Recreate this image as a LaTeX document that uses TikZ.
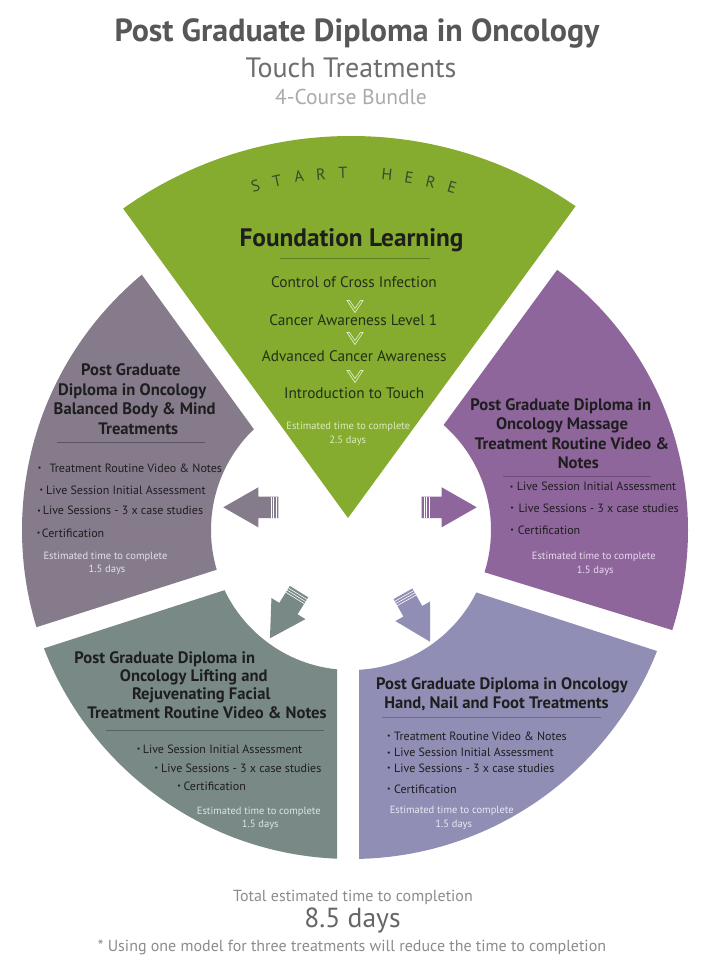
\documentclass[tikz,border=0pt]{standalone}
\usepackage{fontspec}
\usepackage{graphicx}
\setmainfont{PT Sans}
\usetikzlibrary{calc}
\definecolor{cgreen}{HTML}{85AC2E}
\definecolor{cmauve}{HTML}{867B8B}
\definecolor{cpurple}{HTML}{8E669C}
\definecolor{cslate}{HTML}{798A86}
\definecolor{clav}{HTML}{918EB6}
\definecolor{cT1}{HTML}{575757}
\definecolor{cT2}{HTML}{6E6E6E}
\definecolor{cT3}{HTML}{ABABAB}
\definecolor{cfoot}{HTML}{8C8C8C}
\definecolor{cdays}{HTML}{666666}
\definecolor{cdark}{HTML}{1E1E1E}
\definecolor{cgtext}{HTML}{233018}
\definecolor{cstart}{HTML}{3B4A2C}
\definecolor{cgest}{HTML}{DCEBC0}
\definecolor{cgline}{HTML}{5F8020}
\definecolor{cLline}{HTML}{5E5466}
\definecolor{cRline}{HTML}{6E4C7C}
\definecolor{cBLline}{HTML}{56635F}
\definecolor{cBRline}{HTML}{6E6B92}
\definecolor{cLest}{HTML}{E6E0EA}
\definecolor{cRest}{HTML}{E8DAEE}
\definecolor{cBLest}{HTML}{DCE4E1}
\definecolor{cBRest}{HTML}{E8E8F4}
\definecolor{cchev}{HTML}{DDEBC4}
\newcommand\bl[2]{\llap{\raisebox{0.12em}{\scalebox{0.65}{•}}\hspace{#1pt}}#2}
\begin{document}
\begin{tikzpicture}[x=1pt,y=-1pt,
  txt/.style={inner sep=0pt, text depth=0pt},
  stitle/.style={txt, font=\bfseries\fontsize{16.6}{17}\selectfont, text height=11.3pt, text=cdark},
  bul/.style={txt, anchor=west, font=\fontsize{12}{12}\selectfont, text height=8.2pt, text=cdark},
  est/.style={txt, font=\fontsize{10.5}{11}\selectfont, text height=7.1pt},
  gitem/.style={txt, font=\fontsize{15.3}{16}\selectfont, text height=10.4pt, text=cgtext},
  rule/.style={line width=0.8pt},
  chev/.style={draw=cchev, line width=0.7pt},
  pics/bigarrow/.style={code={
    \fill[#1] (0,-10.8) -- (20,-10.8) -- (20,-20) -- (55,0) -- (20,20) -- (20,10.8) -- (0,10.8) -- cycle;
    \draw[white, line width=0.6pt] (2.5,-10.8) -- (2.5,10.8) (5,-10.8) -- (5,10.8) (7.5,-10.8) -- (7.5,10.8);
  }}]
\useasboundingbox[fill=white] (0,0) rectangle (715,975);
\coordinate (C) at (351,530);
\coordinate (CL) at (354,530);
\coordinate (CR) at (364,530);

% ---------- green sector ----------
\coordinate (g0) at (348,518);
\coordinate (g1) at (122,207);
\coordinate (g2) at (575,207);
\begin{scope}
  \clip (g0) -- ($(g0)!2!(g1)$) -- ($(g0)!2!(g2)$) -- cycle;
  \fill[cgreen] (C) circle[radius=394pt];
\end{scope}

% ---------- left sector ----------
\coordinate (a1) at (142,275); \coordinate (a2) at (253,428);
\coordinate (b1) at (37,627);  \coordinate (b2) at (200,575);
\coordinate (iL) at (intersection of a1--a2 and b1--b2);
\begin{scope}
  \clip (iL) -- ($(iL)!3!(a1)$) -- (-700,450) -- ($(iL)!3!(b1)$) -- cycle;
  \fill[cmauve, even odd rule] (CL) circle[radius=332pt] (C) circle[radius=140pt];
\end{scope}

% ---------- right sector ----------
\coordinate (c1) at (557,270); \coordinate (c2) at (445,423);
\coordinate (d1) at (672,630); \coordinate (d2) at (487,573);
\coordinate (iR) at (intersection of c1--c2 and d1--d2);
\begin{scope}
  \clip (iR) -- ($(iR)!3!(c1)$) -- (1400,450) -- ($(iR)!3!(d1)$) -- cycle;
  \fill[cpurple, even odd rule] (CR) circle[radius=324pt] (C) circle[radius=140pt];
\end{scope}

% ---------- bottom-left sector ----------
\coordinate (e1) at (45,648);  \coordinate (e2) at (225,590);
\coordinate (f1) at (337,858); \coordinate (f2) at (337,668);
\coordinate (iBL) at (intersection of e1--e2 and f1--f2);
\begin{scope}
  \clip (iBL) -- ($(iBL)!3!(e1)$) -- (-400,1400) -- ($(iBL)!3!(f1)$) -- cycle;
  \fill[cslate, even odd rule] (C) circle[radius=329pt] (C) circle[radius=140pt];
\end{scope}

% ---------- bottom-right sector ----------
\coordinate (h1) at (660,652); \coordinate (h2) at (478,593);
\coordinate (k1) at (359,858); \coordinate (k2) at (359,668);
\coordinate (iBR) at (intersection of h1--h2 and k1--k2);
\begin{scope}
  \clip (iBR) -- ($(iBR)!3!(h1)$) -- (1100,1400) -- ($(iBR)!3!(k1)$) -- cycle;
  \fill[clav, even odd rule] (C) circle[radius=329pt] (C) circle[radius=140pt];
\end{scope}

% ---------- block arrows ----------
\pic[rotate=180] at (278.3,507.3) {bigarrow=cmauve};
\pic[rotate=0] at (421.7,507.3) {bigarrow=cpurple};
\pic[rotate=-121.9] at (299,591.6) {bigarrow=cslate};
\pic[rotate=-60.6] at (403,593.8) {bigarrow=clav};

% ---------- header ----------
\node[txt, font=\bfseries\fontsize{32}{32}\selectfont, text height=21.8pt, text=cT1] (title) at (357,31) {Post Graduate Diploma in Oncology};
\node[txt, font=\fontsize{28}{28}\selectfont, text height=19pt, text=cT2] (sub) at (351,67.5) {Touch Treatments};
\node[txt, font=\fontsize{21.5}{22}\selectfont, text height=14.6pt, text=cT3] (bundle) at (351,97.5) {4-Course Bundle};

% ---------- START HERE ----------
\foreach \ch/\ang [count=\i] in {S/-15.5, T/-11.95, A/-8.4, R/-4.85, T/-1.3, H/5.8, E/9.35, R/12.9, E/16.45}
  \node[txt, font=\fontsize{16}{16}\selectfont, text height=10.9pt, text=cstart, rotate=-\ang] (sh\i) at ({351+357*sin(\ang)},{530-357*cos(\ang)}) {\ch};

% ---------- green content ----------
\node[txt, font=\bfseries\fontsize{25.3}{26}\selectfont, text height=17.2pt, text=cdark] (found) at (351.5,238) {Foundation Learning};
\draw[rule, cgline] (280,258.3) -- (430,258.3);
\node[gitem] (ga) at (354,282.3) {Control of Cross Infection};
\node[gitem] (gb) at (353.3,320) {Cancer Awareness Level 1};
\node[gitem] (gc) at (354.2,356.7) {Advanced Cancer Awareness};
\node[gitem] (gd) at (354.2,393.3) {Introduction to Touch};
\node[est, text=cgest] (ge) at (348.3,426) {Estimated time to complete};
\node[est, text=cgest] (gf) at (347.8,440) {2.5 days};
\foreach \y in {300.5,332.5,370.5}
  \draw[chev] (347,\y) -- (355,\y+12) -- (363,\y) -- (360.5,\y) -- (355,\y+8) -- (349.5,\y) -- cycle;

% ---------- left sector content ----------
\node[stitle] (l1) at (130.8,370) {Post Graduate};
\node[stitle] (l2) at (132.2,390) {Diploma in Oncology};
\node[stitle] (l3) at (134.7,409) {Balanced Body \& Mind};
\node[stitle] (l4) at (138.3,429.3) {Treatments};
\draw[rule, cLline] (56.7,442.7) -- (205,442.7);
\node[bul] (l5) at (49.3,468.3) {\bl{8}{Treatment Routine Video \& Notes}};
\node[bul] (l6) at (46,490) {\bl{3}{Live Session Initial Assessment}};
\node[bul] (l7) at (42.7,510.7) {\bl{2}{Live Sessions - 3 x case studies}};
\node[bul] (l8) at (41.7,533.3) {\bl{1.5}{Certification}};
\node[est, text=cLest] (l9) at (105.5,555.7) {Estimated time to complete};
\node[est, text=cLest] (l10) at (107,569.3) {1.5 days};

% ---------- right sector content ----------
\node[stitle] (r1) at (560.8,405) {Post Graduate Diploma in};
\node[stitle] (r2) at (562,424.3) {Oncology Massage};
\node[stitle] (r3) at (572,444) {Treatment Routine Video \&};
\node[stitle] (r4) at (578.3,463.3) {Notes};
\draw[rule, cRline] (503.3,476.7) -- (650.7,476.7);
\node[bul] (r5) at (516.7,486.7) {\bl{3.5}{Live Session Initial Assessment}};
\node[bul] (r6) at (518.3,508.3) {\bl{4.5}{Live Sessions - 3 x case studies}};
\node[bul] (r7) at (517.7,530) {\bl{4}{Certification}};
\node[est, text=cRest] (r8) at (593.8,556) {Estimated time to complete};
\node[est, text=cRest] (r9) at (595.3,570) {1.5 days};

% ---------- bottom-left sector content ----------
\node[stitle] (p1) at (164.8,658.3) {Post Graduate Diploma in};
\node[stitle] (p2) at (193.7,676) {Oncology Lifting and};
\node[stitle] (p3) at (201.2,694) {Rejuvenating Facial};
\node[stitle] (p4) at (207,712.7) {Treatment Routine Video \& Notes};
\draw[rule, cBLline] (106,730) -- (324,730);
\node[bul] (p5) at (142.7,749.3) {\bl{2.5}{Live Session Initial Assessment}};
\node[bul] (p6) at (161,768.3) {\bl{3}{Live Sessions - 3 x case studies}};
\node[bul] (p7) at (183.3,786) {\bl{2.5}{Certification}};
\node[est, text=cBLest] (p8) at (258.8,810.7) {Estimated time to complete};
\node[est, text=cBLest] (p9) at (260.3,824.3) {1.5 days};

% ---------- bottom-right sector content ----------
\node[stitle] (q1) at (502,684) {Post Graduate Diploma in Oncology};
\node[stitle] (q2) at (496.5,703.3) {Hand, Nail and Foot Treatments};
\draw[rule, cBRline] (382.3,717.7) -- (601,717.7);
\node[bul] (q3) at (394,736) {\bl{3.5}{Treatment Routine Video \& Notes}};
\node[bul] (q4) at (394,752.7) {\bl{3.5}{Live Session Initial Assessment}};
\node[bul] (q5) at (394,768.3) {\bl{3.5}{Live Sessions - 3 x case studies}};
\node[bul] (q6) at (394,789.3) {\bl{3.5}{Certification}};
\node[est, text=cBRest] (q7) at (451.7,810) {Estimated time to complete};
\node[est, text=cBRest] (q8) at (453.7,824) {1.5 days};

% ---------- footer ----------
\node[txt, font=\fontsize{16}{16}\selectfont, text height=10.9pt, text=cfoot] (tot) at (353,896.5) {Total estimated time to completion};
\node[txt, font=\fontsize{27.6}{28}\selectfont, text height=18.8pt, text=cdays] (days) at (352.5,918.3) {8.5 days};
\node[txt, font=\fontsize{16}{16}\selectfont, text height=10.9pt, text=cfoot] (note) at (352,946) {* Using one model for three treatments will reduce the time to completion};
\end{tikzpicture}
\end{document}
